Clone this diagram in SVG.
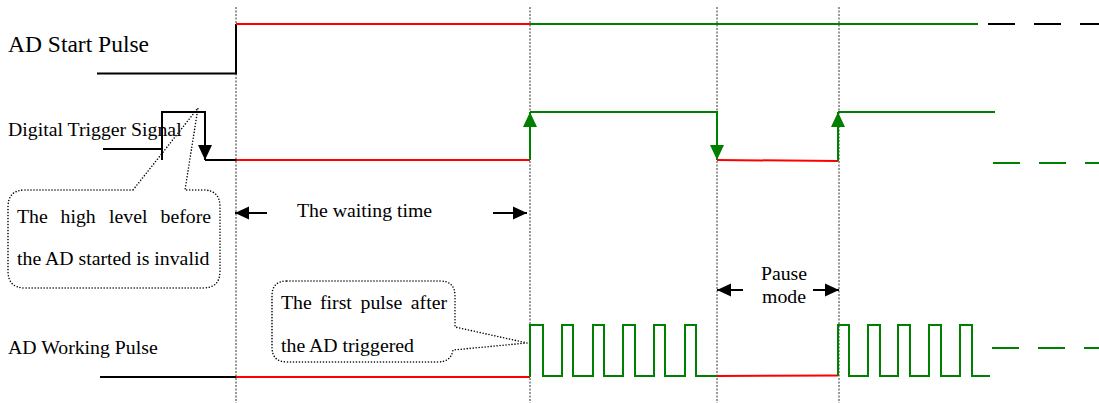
<svg xmlns="http://www.w3.org/2000/svg" width="1099" height="403" viewBox="0 0 1099 403">
<style>
  text { font-family: "Liberation Serif", "Times New Roman", serif; fill: #000; }
  .lbl { font-size: 19.8px; }
  .big { font-size: 23.5px; }
  .guide { stroke: #333; stroke-width: 1; stroke-dasharray: 2 1.5; fill: none; }
  .blk { stroke: #000; stroke-width: 2; fill: none; }
  .red { stroke: #ff0000; stroke-width: 2; fill: none; }
  .grn { stroke: #008000; stroke-width: 2; fill: none; }
  .dashk { stroke: #000; stroke-width: 2; fill: none; stroke-dasharray: 27 19; }
  .dashg { stroke: #008000; stroke-width: 2; fill: none; stroke-dasharray: 27 19; }
  .callout { stroke: #000; stroke-width: 1.6; fill: none; stroke-dasharray: 0 3; stroke-linecap: round; }
</style>
<defs>
  <marker id="ak" markerUnits="userSpaceOnUse" markerWidth="16" markerHeight="16" refX="15" refY="7" orient="auto" viewBox="0 0 16 14">
    <path d="M0,0 L15,7 L0,14 Z" fill="#000"/>
  </marker>
  <marker id="ag" markerUnits="userSpaceOnUse" markerWidth="16" markerHeight="16" refX="15" refY="7" orient="auto" viewBox="0 0 16 14">
    <path d="M0,0 L15,7 L0,14 Z" fill="#008000"/>
  </marker>
  <marker id="ad" markerUnits="userSpaceOnUse" markerWidth="16" markerHeight="14" refX="14" refY="6.5" orient="auto" viewBox="0 0 16 13">
    <path d="M0,0 L14,6.5 L0,13 Z" fill="#000"/>
  </marker>
</defs>

<g id="guides">
  <line class="guide" x1="236" y1="7" x2="236" y2="403"/>
  <line class="guide" x1="530" y1="7" x2="530" y2="403"/>
  <line class="guide" x1="717" y1="7" x2="717" y2="403"/>
  <line class="guide" x1="839" y1="7" x2="839" y2="403"/>
</g>

<g id="ad-start-pulse">
  <text class="big" x="8" y="52">AD Start Pulse</text>
  <polyline class="blk" points="97,73.5 236,73.5 236,24"/>
  <line class="red" x1="236" y1="24" x2="530" y2="24"/>
  <line class="grn" x1="530" y1="24" x2="978" y2="24"/>
  <line class="dashk" x1="988" y1="24" x2="1099" y2="24"/>
</g>

<g id="digital-trigger-signal">
  <text class="lbl" x="8" y="136">Digital Trigger Signal</text>
  <polyline class="blk" points="103,149 162,149"/>
  <polyline class="blk" points="162,160 162,112 205,112 205,160" marker-end="url(#ak)"/>
  <line class="blk" x1="205" y1="160" x2="236" y2="160"/>
  <line class="red" x1="236" y1="160" x2="530" y2="160"/>
  <line class="grn" x1="530" y1="160" x2="530" y2="112" marker-end="url(#ag)"/>
  <polyline class="grn" points="530,112 717,112 717,160" marker-end="url(#ag)"/>
  <line class="red" x1="717" y1="160" x2="838" y2="161"/>
  <line class="grn" x1="838" y1="161" x2="838" y2="112" marker-end="url(#ag)"/>
  <line class="grn" x1="838" y1="112" x2="995" y2="112"/>
  <line class="dashg" x1="993" y1="163" x2="1099" y2="163"/>
</g>

<g id="ad-working-pulse">
  <text class="lbl" x="8" y="354">AD Working Pulse</text>
  <line class="blk" x1="100" y1="377" x2="236" y2="377"/>
  <line class="red" x1="236" y1="377" x2="530" y2="377"/>
  <polyline class="grn" points="530,377 530,325 543,325 543,376 562,376 562,325 573,325 573,376 593,376 593,325 604,325 604,376 623,376 623,325 635,325 635,376 654,376 654,325 665,325 665,376 685,376 685,325 696,325 696,376 717,376"/>
  <line class="red" x1="717" y1="376" x2="838" y2="375.5"/>
  <polyline class="grn" points="838,376 838,325 849,325 849,376 868,376 868,325 880,325 880,376 898,376 898,325 910,325 910,376 929,376 929,325 941,325 941,376 960,376 960,325 972,325 972,376 990,376"/>
  <line class="dashg" x1="992" y1="348" x2="1099" y2="348"/>
</g>

<g id="connectors">
  <line class="blk" x1="267" y1="213" x2="235" y2="213" marker-end="url(#ad)"/>
  <line class="blk" x1="493" y1="213" x2="527" y2="213" marker-end="url(#ad)"/>
  <line class="blk" x1="743" y1="290" x2="717" y2="290" marker-end="url(#ad)"/>
  <line class="blk" x1="813" y1="290" x2="839" y2="290" marker-end="url(#ad)"/>
</g>

<g id="waiting-time">
  <text class="lbl" x="297" y="217">The waiting time</text>
</g>

<g id="pause-mode">
  <text class="lbl" x="784" y="280" text-anchor="middle">Pause</text>
  <text class="lbl" x="784" y="303" text-anchor="middle">mode</text>
</g>

<g id="callout-invalid">
  <path class="callout" d="M133,190 L25,190 Q8,190 8,207 L8,271 Q8,288 25,288 L203,288 Q220,288 220,271 L220,207 Q220,190 203,190 L185,190 L198,108 Z"/>
  <text class="lbl" x="17" y="223">The</text>
  <text class="lbl" x="60.5" y="223">high</text>
  <text class="lbl" x="109" y="223">level</text>
  <text class="lbl" x="211" y="223" text-anchor="end">before</text>
  <text class="lbl" x="17" y="265">the AD started is invalid</text>
</g>

<g id="callout-first-pulse">
  <path class="callout" d="M287,281 L440,281 Q455,281 455,296 L455,327 L527,343 L453,350 Q451,362 438,362 L287,362 Q272,362 272,347 L272,296 Q272,281 287,281 Z"/>
  <text class="lbl" x="281" y="309">The</text>
  <text class="lbl" x="320" y="309">first</text>
  <text class="lbl" x="360.5" y="309">pulse</text>
  <text class="lbl" x="447" y="309" text-anchor="end">after</text>
  <text class="lbl" x="281" y="352">the AD triggered</text>
</g>
</svg>
